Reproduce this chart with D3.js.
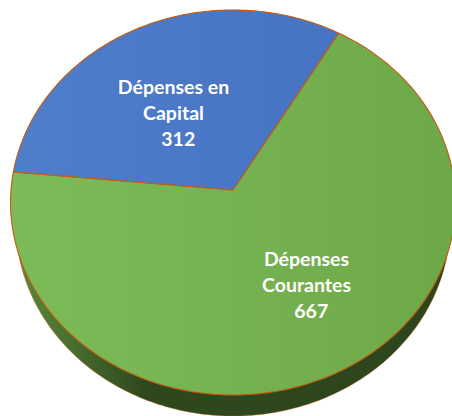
<!DOCTYPE html>
<html>
<head>
<meta charset="utf-8">
<script src="https://cdn.jsdelivr.net/npm/d3@7"></script>
<style>
  html, body { margin: 0; padding: 0; background: #fff; overflow: hidden; }
  text { font-family: Lato, sans-serif; font-weight: 700; fill: #fff; font-size: 19.5px; }
</style>
</head>
<body>
<div id="chart"></div>
<script>
var categories = ["Dépenses Courantes", "Dépenses en Capital"];
var values = [667, 312];
var labelLines = [["Dépenses", "Courantes", "  667"], ["Dépenses en", "Capital", "  312"]];

const width = 452, height = 416;
const cx = 233, cy = 190;      // where the slices meet
const rx = 222, ry = 191.7;
const tilt = 0.065;            // near edge looks bigger than the far edge
const depth = 21;
const rimShrink = 0.976;       // underside is a bit narrower than the top
const firstAngle = 30.2 * Math.PI / 180;

const svg = d3.select("#chart").append("svg")
  .attr("width", width)
  .attr("height", height)
  .style("display", "block");

// tilted disc: angle 0 is at the top, going clockwise
function project(angle, r) {
  const x = Math.sin(angle) * r;
  const y = -Math.cos(angle) * r;
  const w = 1 - tilt * y;
  return [cx + rx * x / w, cy + ry * y / w];
}

const pie = d3.pie().sort(null).startAngle(firstAngle).endAngle(firstAngle + 2 * Math.PI);
const slices = pie(values);

const line = d3.line();

function slicePath(d) {
  const n = Math.ceil((d.endAngle - d.startAngle) * 60);
  const pts = [project(0, 0)];
  d3.range(n + 1).forEach(function(i) {
    pts.push(project(d.startAngle + (d.endAngle - d.startAngle) * i / n, 1));
  });
  return line(pts) + "Z";
}

function rimPath(dy) {
  const pts = d3.range(361).map(function(i) {
    const p = project(i * Math.PI / 180, 1);
    return [cx + (p[0] - cx) * rimShrink, p[1] + dy];
  });
  return line(pts) + "Z";
}

const defs = svg.append("defs");
const grads = [["grad0", "#7dbb58", "#6ea949"], ["grad1", "#4f7ecb", "#4370c0"]];
grads.forEach(function(g) {
  const lg = defs.append("linearGradient").attr("id", g[0])
    .attr("gradientUnits", "userSpaceOnUse")
    .attr("x1", 10).attr("y1", 200).attr("x2", 452).attr("y2", 200);
  lg.append("stop").attr("offset", "0%").attr("stop-color", g[1]);
  lg.append("stop").attr("offset", "100%").attr("stop-color", g[2]);
});

const rimGrad = defs.append("linearGradient").attr("id", "rimGrad")
  .attr("gradientUnits", "userSpaceOnUse")
  .attr("x1", 15).attr("y1", 0).attr("x2", 452).attr("y2", 0);
rimGrad.append("stop").attr("offset", "0%").attr("stop-color", "#5a8c3c");
rimGrad.append("stop").attr("offset", "30%").attr("stop-color", "#2f471d");
rimGrad.append("stop").attr("offset", "100%").attr("stop-color", "#2d451c");

// side of the disc, same outline pushed down
svg.append("path")
  .attr("d", rimPath(depth))
  .attr("fill", "url(#rimGrad)")
  .attr("stroke", "#c55a11")
  .attr("stroke-width", 0.4);

svg.selectAll("path.slice")
  .data(slices)
  .enter()
  .append("path")
  .attr("class", "slice")
  .attr("d", slicePath)
  .attr("fill", function(d, i) { return "url(#grad" + i + ")"; })
  .attr("stroke", "#c55a11")
  .attr("stroke-width", 1.1)
  .attr("stroke-linejoin", "round");

const labelPos = [[306.5, 265.5], [173.5, 93.5]];
const lineGap = 26;

svg.selectAll("text.label")
  .data(slices)
  .enter()
  .append("text")
  .attr("class", "label")
  .attr("text-anchor", "middle")
  .attr("xml:space", "preserve")
  .each(function(d, i) {
    d3.select(this).selectAll("tspan")
      .data(labelLines[i])
      .enter()
      .append("tspan")
      .attr("x", labelPos[i][0])
      .attr("y", function(t, j) { return labelPos[i][1] + j * lineGap; })
      .style("white-space", "pre")
      .text(function(t) { return t; });
  });
</script>
</body>
</html>
